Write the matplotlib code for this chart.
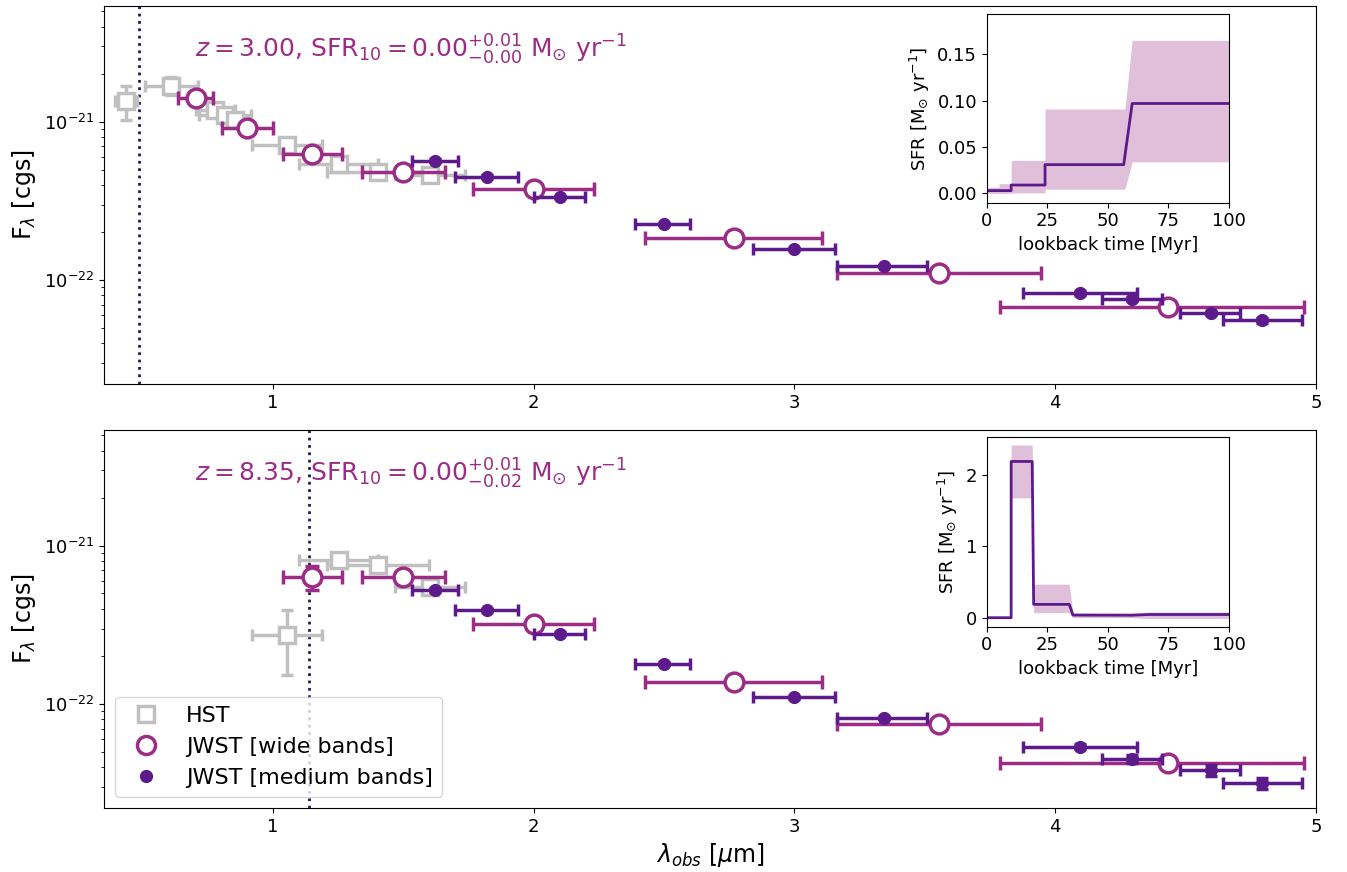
import matplotlib
matplotlib.use('Agg')
import matplotlib.pyplot as plt
from matplotlib.lines import Line2D
import numpy as np

# colours
hst_color = 'silver'
wide_color = '#9b2d86'
medium_color = '#5c1a8a'
lya_color = '#1c1c5c'

# filter centres and edges (micron)
hst_lam = [0.436, 0.608, 0.778, 0.816, 0.854, 1.052, 1.254, 1.401, 1.602]
hst_lo = [0.394, 0.509, 0.703, 0.716, 0.800, 0.918, 1.100, 1.206, 1.468]
hst_hi = [0.480, 0.711, 0.853, 0.916, 0.908, 1.187, 1.404, 1.600, 1.736]

wide_lam = [0.704, 0.900, 1.148, 1.500, 2.000, 2.768, 3.554, 4.432]
wide_lo = [0.637, 0.803, 1.037, 1.342, 1.767, 2.426, 3.163, 3.790]
wide_hi = [0.771, 1.001, 1.266, 1.660, 2.231, 3.105, 3.945, 4.955]

med_lam = [1.621, 1.819, 2.100, 2.499, 3.000, 3.343, 4.094, 4.294, 4.597, 4.792]
med_lo = [1.534, 1.700, 2.000, 2.390, 2.840, 3.163, 3.876, 4.179, 4.480, 4.645]
med_hi = [1.708, 1.940, 2.196, 2.600, 3.155, 3.510, 4.313, 4.410, 4.708, 4.946]

# galaxy 1, z = 3.00
z1 = 3.00
hst_f1 = [1.36e-21, 1.69e-21, 1.19e-21, 1.11e-21, 1.03e-21, 7.15e-22, 5.42e-22, 4.81e-22, 4.63e-22]
hst_e1 = [3.3e-22, 2.2e-22, 5e-23, 4e-23, 5e-23, 2e-23, 2e-23, 1.5e-23, 2e-23]
wide_f1 = [1.41e-21, 9.12e-22, 6.27e-22, 4.84e-22, 3.77e-22, 1.85e-22, 1.11e-22, 6.75e-23]
wide_e1 = [3e-23, 2e-23, 1e-23, 8e-24, 5e-24, 3e-24, 2e-24, 1.5e-24]
med_f1 = [5.69e-22, 4.51e-22, 3.35e-22, 2.26e-22, 1.57e-22, 1.23e-22, 8.28e-23, 7.59e-23, 6.18e-23, 5.58e-23]
med_e1 = [1e-23, 8e-24, 6e-24, 4e-24, 3e-24, 2e-24, 2e-24, 2e-24, 2e-24, 2e-24]

# galaxy 2, z = 8.35 (only NIR HST bands)
z2 = 8.35
hst_idx2 = [5, 6, 7, 8]
hst_f2 = [2.72e-22, 8.11e-22, 7.55e-22, 5.50e-22]
hst_e2 = [1.2e-22, 3e-23, 3e-23, 3e-23]
wide_idx2 = [2, 3, 4, 5, 6, 7]
wide_f2 = [6.36e-22, 6.36e-22, 3.19e-22, 1.37e-22, 7.50e-23, 4.25e-23]
wide_e2 = [1.08e-22, 1.5e-23, 8e-24, 4e-24, 3e-24, 2e-24]
med_f2 = [5.28e-22, 3.91e-22, 2.79e-22, 1.80e-22, 1.10e-22, 8.19e-23, 5.36e-23, 4.50e-23, 3.83e-23, 3.16e-23]
med_e2 = [1.5e-23, 1e-23, 6e-24, 4e-24, 3e-24, 2e-24, 2e-24, 2.5e-24, 3e-24, 2.5e-24]

# star formation histories (lookback time [Myr], SFR [Msun/yr])
sfh1_t = [0, 10, 10, 24, 24, 56.5, 60, 100]
sfh1_med = [0.003, 0.003, 0.009, 0.009, 0.031, 0.031, 0.097, 0.097]
band1_t = [0, 5, 5, 10, 10, 24, 24, 57, 60, 100]
band1_hi = [0.0065, 0.0065, 0.0105, 0.0105, 0.0356, 0.0356, 0.091, 0.091, 0.165, 0.165]
band1_lo = [0.0, 0.0, 0.0, 0.0, 0.0005, 0.0005, 0.0045, 0.0045, 0.034, 0.034]

sfh2_t = [0, 10, 10, 18.7, 19.3, 34, 34.5, 35.5, 60, 67, 100]
sfh2_med = [0.0, 0.0, 2.19, 2.19, 0.187, 0.187, 0.14, 0.037, 0.035, 0.045, 0.045]
band2_t = [0, 10, 10, 18.7, 19.3, 34, 35.5, 60, 67, 100]
band2_hi = [0.01, 0.01, 2.42, 2.42, 0.47, 0.47, 0.065, 0.065, 0.08, 0.08]
band2_lo = [-0.01, -0.01, 1.68, 1.68, 0.07, 0.07, 0.0, 0.0, -0.01, -0.01]

labels = [r'$z=3.00$, SFR$_{10}=0.00^{+0.01}_{-0.00}$ M$_{\odot}$ yr$^{-1}$',
          r'$z=8.35$, SFR$_{10}=0.00^{+0.01}_{-0.02}$ M$_{\odot}$ yr$^{-1}$']


def xerr_of(lam, lo, hi):
    lam, lo, hi = np.array(lam), np.array(lo), np.array(hi)
    return [lam - lo, hi - lam]


def draw_sed(ax, z, hst_i, hst_f, hst_e, wide_i, wide_f, wide_e, med_f, med_e, text):
    hl = np.array(hst_lam)[hst_i]
    ax.errorbar(hl, hst_f, yerr=hst_e,
                xerr=xerr_of(hl, np.array(hst_lo)[hst_i], np.array(hst_hi)[hst_i]),
                fmt='s', ms=12, mfc='white', mec=hst_color, mew=2.5, color=hst_color,
                elinewidth=2.5, capsize=4, capthick=2.5, zorder=2)
    wl = np.array(wide_lam)[wide_i]
    ax.errorbar(wl, wide_f, yerr=wide_e,
                xerr=xerr_of(wl, np.array(wide_lo)[wide_i], np.array(wide_hi)[wide_i]),
                fmt='o', ms=13.5, mfc='white', mec=wide_color, mew=2.5, color=wide_color,
                elinewidth=2.5, capsize=5, capthick=2.5, zorder=3)
    ax.errorbar(med_lam, med_f, yerr=med_e, xerr=xerr_of(med_lam, med_lo, med_hi),
                fmt='o', ms=8.5, color=medium_color, elinewidth=2.5, capsize=4,
                capthick=2.5, zorder=4)
    ax.axvline(0.1216 * (1 + z), color=lya_color, ls=':', lw=2, zorder=1)
    ax.text(0.075, 0.885, text, transform=ax.transAxes, color=wide_color,
            fontsize=18, va='center')
    ax.set_yscale('log')
    ax.set_xlim(0.352, 5.0)
    ax.set_ylim(2.2e-23, 5.4e-21)
    ax.set_xticks([1, 2, 3, 4, 5])
    ax.set_xticklabels(['1', '2', '3', '4', '5'])
    ax.tick_params(labelsize=13)
    ax.set_ylabel(r'F$_{\lambda}$ [cgs]', fontsize=17)


def draw_sfh(ax, t, med, bt, lo, hi, ylim, yticks):
    ax.fill_between(bt, lo, hi, color=wide_color, alpha=0.3, lw=0)
    ax.plot(t, med, color=medium_color, lw=2)
    ax.set_xlim(0, 100)
    ax.set_ylim(*ylim)
    ax.set_xticks([0, 25, 50, 75, 100])
    ax.set_yticks(yticks)
    ax.tick_params(labelsize=13)
    ax.set_xlabel('lookback time [Myr]', fontsize=13)
    ax.set_ylabel(r'SFR [M$_{\odot}$ yr$^{-1}$]', fontsize=13)


def main():
    fig = plt.figure(figsize=(13.47, 8.72), dpi=100)
    ax1 = fig.add_axes([0.0772, 0.5596, 0.8998, 0.4334])
    ax2 = fig.add_axes([0.0772, 0.0734, 0.8998, 0.4334])

    all_hst = list(range(len(hst_lam)))
    all_wide = list(range(len(wide_lam)))
    draw_sed(ax1, z1, all_hst, hst_f1, hst_e1, all_wide, wide_f1, wide_e1,
             med_f1, med_e1, labels[0])
    draw_sed(ax2, z2, hst_idx2, hst_f2, hst_e2, wide_idx2, wide_f2, wide_e2,
             med_f2, med_e2, labels[1])
    ax2.set_xlabel(r'$\lambda_{obs}$ [$\mu$m]', fontsize=17)

    handles = [
        Line2D([], [], marker='s', ls='none', ms=11, mfc='white', mec=hst_color, mew=2.5),
        Line2D([], [], marker='o', ls='none', ms=13, mfc='white', mec=wide_color, mew=2.5),
        Line2D([], [], marker='o', ls='none', ms=8.5, color=medium_color),
    ]
    ax2.legend(handles, ['HST', 'JWST [wide bands]', 'JWST [medium bands]'],
               loc='lower left', fontsize=16)

    in1 = fig.add_axes([0.7327, 0.7675, 0.1797, 0.2164])
    draw_sfh(in1, sfh1_t, sfh1_med, band1_t, band1_lo, band1_hi,
             (-0.0101, 0.1935), [0.0, 0.05, 0.10, 0.15])
    in2 = fig.add_axes([0.7327, 0.2813, 0.1797, 0.2179])
    draw_sfh(in2, sfh2_t, sfh2_med, band2_t, band2_lo, band2_hi,
             (-0.126, 2.537), [0, 1, 2])

    fig.savefig('out.png', dpi=100)


if __name__ == '__main__':
    main()
